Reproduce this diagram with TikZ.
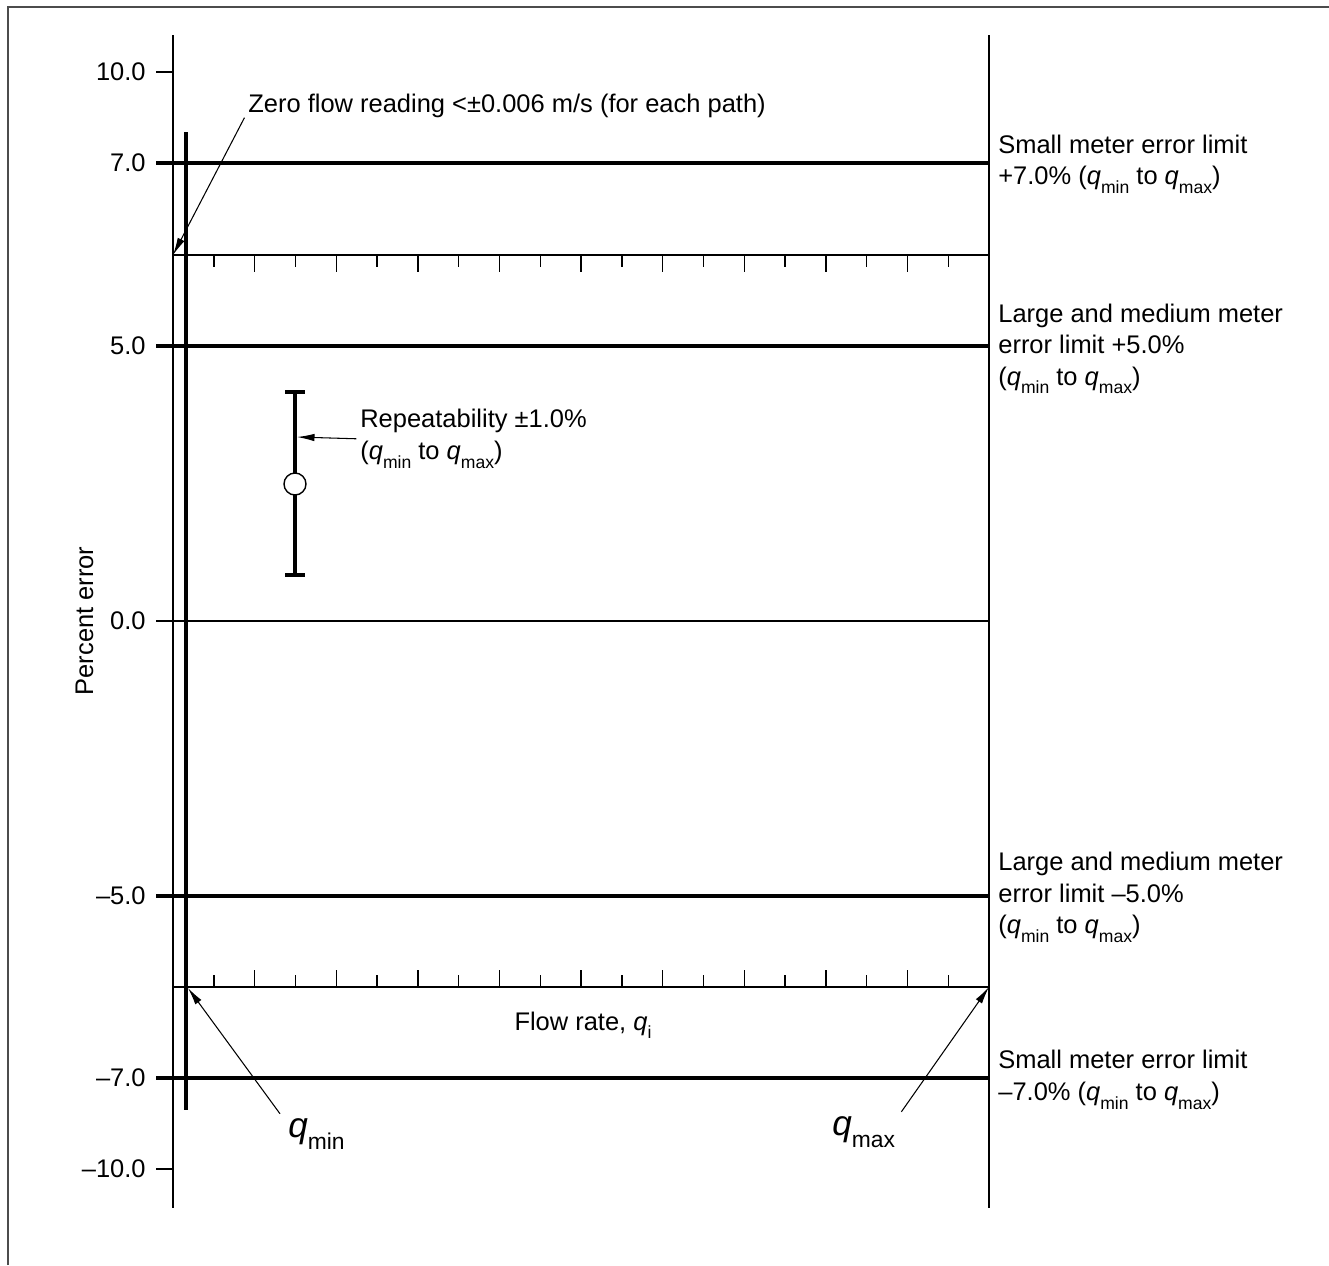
\documentclass[tikz,border=0pt]{standalone}
\usepackage{fontspec}
\setmainfont{Liberation Sans}
\usepackage{tikz}
\usetikzlibrary{arrows.meta, positioning, calc}
\newcommand{\qs}[1]{\textit{q}\raisebox{-5pt}{\fontsize{10}{10}\selectfont #1}}
\newcommand{\qbig}[1]{{\fontsize{20}{24}\selectfont\textit{q}}\raisebox{-7pt}{\fontsize{13}{13}\selectfont #1}}

\begin{document}
\begin{tikzpicture}[x=0.02cm, y=-0.02cm,
  thinln/.style={line width=0.8pt},
  thickln/.style={line width=2pt},
  lbl/.style={inner sep=0pt, font=\fontsize{14.5}{17.9}\selectfont},
  callout/.style={line width=0.6pt, -{Latex[length=3.5mm, width=1.5mm]}}]
\useasboundingbox (0,0) rectangle (1329,1265);
\draw[line width=0.8pt, black!70] (8,1265) -- (8,7) -- (1329,7);
\draw[thinln] (173,35) -- (173,1208);
\draw[thinln] (989,35) -- (989,1208);
\draw[thickln] (186,132) -- (186,1110);
\draw[thinln] (173,255) -- (989,255);
\draw[thinln] (173,987) -- (989,987);
\foreach \k in {1,...,19} {
  \pgfmathsetmacro{\tl}{mod(\k,2)==0 ? 17 : 12}
  \draw[thinln] (173+40.8*\k,255) -- ++(0,\tl);
  \draw[thinln] (173+40.8*\k,987) -- ++(0,-\tl);
}
\foreach \v/\y in {10.0/72, 7.0/163, 5.0/346, 0.0/621, --5.0/896, --7.0/1078, --10.0/1169}
  \node[lbl, anchor=east] at (146,\y) {\v};
\draw[thinln] (156,72) -- (173,72);
\draw[thinln] (156,1169) -- (173,1169);
\draw[thinln] (156,621) -- (989,621);
\foreach \y in {163, 346, 896, 1078}
  \draw[thickln] (156,\y) -- (989,\y);
\node[lbl, anchor=base, rotate=90] (errlbl) at (93,621) {Percent error};
\node[lbl, anchor=base] (flowlbl) at (583,1030) {Flow rate, \qs{i}};
\node[lbl, anchor=north west, align=left] (smallplus) at (998,134.4) {Small meter error limit\\+7.0\% (\qs{min} to \qs{max})};
\node[lbl, anchor=north west, align=left] (largeplus) at (998,303.4) {Large and medium meter\\error limit +5.0\%\\(\qs{min} to \qs{max})};
\node[lbl, anchor=north west, align=left] (largeminus) at (998,852) {Large and medium meter\\error limit --5.0\%\\(\qs{min} to \qs{max})};
\node[lbl, anchor=north west, align=left] (smallminus) at (998,1050) {Small meter error limit\\--7.0\% (\qs{min} to \qs{max})};
\draw[thickln] (295,392) -- (295,575);
\draw[thickln] (285,392) -- (305,392);
\draw[thickln] (285,575) -- (305,575);
\node[draw, circle, fill=white, inner sep=0pt, minimum size=0.44cm, thinln] (meanpt) at (295,484) {};
\coordinate (barmid) at (297,437);
\node[lbl, anchor=north west, align=left] (repeat) at (360,409) {Repeatability ±1.0\%\\(\qs{min} to \qs{max})};
\draw[callout] ([xshift=-2pt]repeat.west) -- (barmid);
\coordinate (zf) at (173,255);
\node[lbl, anchor=base west] (zeroflow) at (248,112) {Zero flow reading <±0.006 m/s (for each path)};
\draw[callout] ([xshift=-2pt]zeroflow.south west) -- (zf);
\coordinate (qmin) at (188,988);
\coordinate (qmax) at (989,987);
\node[anchor=base west, inner sep=0pt] (qminlbl) at (288,1137) {\qbig{min}};
\node[anchor=base west, inner sep=0pt] (qmaxlbl) at (832,1135) {\qbig{max}};
\draw[callout] ([shift={(-8,-4)}]qminlbl.north west) -- (qmin);
\draw[callout] ([shift={(6,-4)}]qmaxlbl.north east) -- (qmax);
\end{tikzpicture}
\end{document}
